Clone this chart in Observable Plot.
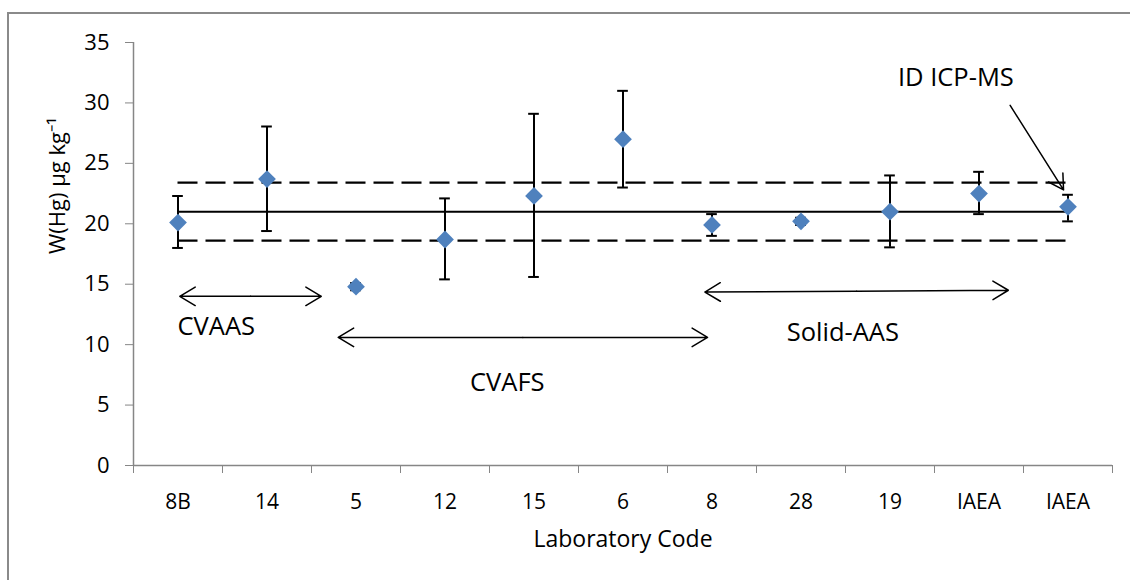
<!DOCTYPE html>
<html>
<head>
<meta charset="utf-8">
<script src="https://cdn.jsdelivr.net/npm/d3@7"></script>
<script src="https://cdn.jsdelivr.net/npm/@observablehq/plot@0.6"></script>
<style>
  html, body { margin: 0; padding: 0; background: #fff; }
  #wrap { position: relative; width: 1130px; height: 580px; overflow: hidden; }
  #frame { position: absolute; left: 7px; top: 12px; width: 1200px; height: 700px; border-left: 2px solid #8a8a8a; border-top: 2px solid #8a8a8a; pointer-events: none; }
  #chart { position: absolute; left: 0; top: 0; }
  text { font-family: "Open Sans", sans-serif; }
</style>
</head>
<body>
<div id="wrap"><div id="chart"></div><div id="frame"></div></div>
<script>
// ---- data ----
const labCodes = ["8B", "14", "5", "12", "15", "6", "8", "28", "19", "IAEA", "IAEA"];
const values   = [20.1, 23.7, 14.8, 18.7, 22.3, 27.0, 19.9, 20.2, 21.0, 22.5, 21.4];
const errLow   = [18.0, 19.4, 14.5, 15.4, 15.6, 23.0, 19.0, 19.9, 18.05, 20.8, 20.2];
const errHigh  = [22.3, 28.05, 15.1, 22.1, 29.1, 31.0, 20.8, 20.5, 24.0, 24.3, 22.4];
const yTicks   = [0, 5, 10, 15, 20, 25, 30, 35];

const refMean  = 21.0;
const refUpper = 23.4;
const refLower = 18.6;

const methodNames  = ["CVAAS", "CVAFS", "Solid-AAS"];
const methodStart  = [0.02, 1.80, 5.92];
const methodEnd    = [1.61, 5.95, 9.33];
const methodY1     = [14.0, 10.6, 14.35];
const methodY2     = [14.0, 10.6, 14.5];
const methodLabelX = [0.43, 3.70, 7.47];
const methodLabelY = [11.5, 6.8, 11.0];

const idmsLabel  = "ID ICP-MS";
const idmsLabelX = 8.74, idmsLabelY = 32.1;
const idmsArrowFrom = [9.35, 29.8];
const idmsArrowTo   = [9.95, 22.8];

// ---- derived tables ----
const n = labCodes.length;
const points = labCodes.map((c, i) => ({i, code: c, v: values[i], lo: errLow[i], hi: errHigh[i]}));
const boundaries = d3.range(n + 1).map(i => i - 0.5);
const refs = [
  {y: refMean, dash: null},
  {y: refUpper, dash: "20,8"},
  {y: refLower, dash: "20,8"}
];
const halfArrows = [];
methodNames.forEach((m, k) => {
  const mx = (methodStart[k] + methodEnd[k]) / 2, my = (methodY1[k] + methodY2[k]) / 2;
  halfArrows.push({x1: mx, y1: my, x2: methodStart[k], y2: methodY1[k]});
  halfArrows.push({x1: mx, y1: my, x2: methodEnd[k], y2: methodY2[k]});
});
const methodLabels = methodNames.map((m, k) => ({name: m, x: methodLabelX[k], y: methodLabelY[k]}));
const capW = 0.06;
const axisGray = "#868686";

const plot = Plot.plot({
  width: 1130,
  height: 580,
  marginLeft: 133,
  marginRight: 18,
  marginTop: 42,
  marginBottom: 115,
  style: {fontFamily: "Open Sans, sans-serif", background: "transparent"},
  x: {domain: [-0.5, n - 0.5]},
  y: {domain: [0, 35]},
  marks: [
    Plot.axisY({ticks: yTicks, tickSize: 8, tickPadding: 16, stroke: axisGray, fill: "black", fontSize: 22, label: null}),
    Plot.axisX({ticks: boundaries, tickSize: 8, stroke: axisGray, tickFormat: () => "", label: null}),
    Plot.axisX({ticks: d3.range(n), tickSize: 0, tickPadding: 29, tickFormat: i => labCodes[i], fill: "black", fontSize: 21, label: null}),
    Plot.ruleY([0], {stroke: axisGray, strokeWidth: 1.5}),
    Plot.ruleX([-0.5], {stroke: axisGray, strokeWidth: 1.5}),
    Plot.text(["Laboratory Code"], {frameAnchor: "bottom", dy: 81, fontSize: 23, fill: "black"}),
    Plot.text(["W(Hg) µg kg⁻¹"], {frameAnchor: "left", rotate: -90, dx: -76, fontSize: 22, fill: "black"}),
    // reference lines
    Plot.ruleY(refs.filter(r => !r.dash), {y: "y", x1: 0, x2: n - 1, stroke: "black", strokeWidth: 2}),
    Plot.ruleY(refs.filter(r => r.dash), {y: "y", x1: 0, x2: n - 1, stroke: "black", strokeWidth: 2.2, strokeDasharray: "20,8"}),
    // error bars
    Plot.ruleX(points, {x: "i", y1: "lo", y2: "hi", stroke: "black", strokeWidth: 2}),
    Plot.ruleY(points, {y: "hi", x1: d => d.i - capW, x2: d => d.i + capW, stroke: "black", strokeWidth: 2}),
    Plot.ruleY(points, {y: "lo", x1: d => d.i - capW, x2: d => d.i + capW, stroke: "black", strokeWidth: 2}),
    // points
    Plot.dot(points, {x: "i", y: "v", symbol: "diamond2", r: 8, fill: "#4F81BD", stroke: "none"}),
    // method arrows
    Plot.arrow(halfArrows, {x1: "x1", y1: "y1", x2: "x2", y2: "y2", bend: 0, headLength: 18, headAngle: 62, stroke: "black", strokeWidth: 1.5}),
    Plot.text(methodLabels, {x: "x", y: "y", text: "name", fontSize: 25.5, fill: "black"}),
    Plot.arrow([{x1: idmsArrowFrom[0], y1: idmsArrowFrom[1], x2: idmsArrowTo[0], y2: idmsArrowTo[1]}],
      {x1: "x1", y1: "y1", x2: "x2", y2: "y2", bend: 0, headLength: 17, headAngle: 60, stroke: "black", strokeWidth: 1.5}),
    Plot.text([{t: idmsLabel, x: idmsLabelX, y: idmsLabelY}], {x: "x", y: "y", text: "t", fontSize: 25.5, fill: "black"})
  ]
});
document.getElementById("chart").appendChild(plot);
</script>
</body>
</html>
